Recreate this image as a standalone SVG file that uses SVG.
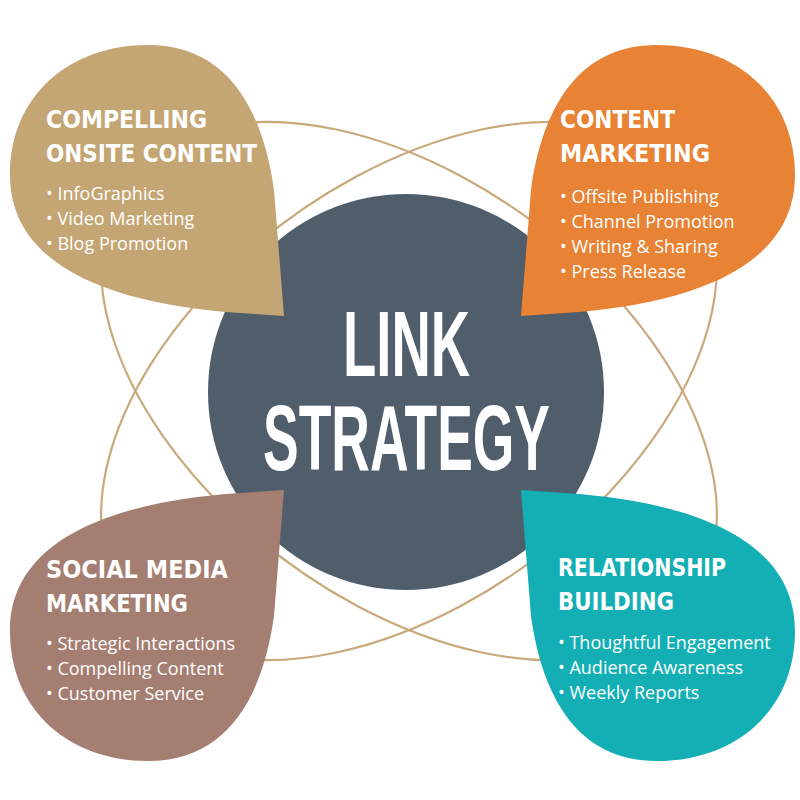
<svg xmlns="http://www.w3.org/2000/svg" width="800" height="800" viewBox="0 0 800 800">
<style>
.h{font-family:"DejaVu Sans",sans-serif;font-weight:bold;font-size:25px;fill:#fff}
.b{font-family:"Open Sans","DejaVu Sans",sans-serif;font-size:18px;fill:#fff}
.c{font-family:"Liberation Sans",sans-serif;font-weight:bold;font-size:92px;fill:#fff}
.ring{fill:none;stroke:#c9a97a;stroke-width:2.2}
</style>
<defs>
<path id="drop" d="M284,316 L240,313 C120,305 10,270 10,175 C10,95 70,45 148,45 C225,45 262,105 274,190 Z"/>
</defs>
<g id="connectors" transform="translate(409,391) scale(1.144,1)">
<ellipse class="ring" rx="325" ry="198" transform="rotate(45)" vector-effect="non-scaling-stroke"/>
<ellipse class="ring" rx="325" ry="198" transform="rotate(-45)" vector-effect="non-scaling-stroke"/>
</g>
<g id="center">
<circle cx="406" cy="392" r="198" fill="#505d6b"/>
<text class="c" x="343" y="376" textLength="127" lengthAdjust="spacingAndGlyphs">LINK</text>
<text class="c" x="263" y="470" textLength="287" lengthAdjust="spacingAndGlyphs">STRATEGY</text>
</g>
<g id="onsite">
<use href="#drop" fill="#c4a574"/>
<text class="h" x="46" y="128" textLength="161" lengthAdjust="spacingAndGlyphs">COMPELLING</text>
<text class="h" x="46" y="162" textLength="211" lengthAdjust="spacingAndGlyphs">ONSITE CONTENT</text>
<text class="b" x="46" y="200">• InfoGraphics</text>
<text class="b" x="46" y="225">• Video Marketing</text>
<text class="b" x="46" y="250">• Blog Promotion</text>
</g>
<g id="content">
<use href="#drop" fill="#e88234" transform="translate(805,0) scale(-1,1)"/>
<text class="h" x="560" y="128" textLength="115" lengthAdjust="spacingAndGlyphs">CONTENT</text>
<text class="h" x="560" y="162" textLength="150" lengthAdjust="spacingAndGlyphs">MARKETING</text>
<text class="b" x="560" y="203">• Offsite Publishing</text>
<text class="b" x="560" y="228">• Channel Promotion</text>
<text class="b" x="560" y="253">• Writing &amp; Sharing</text>
<text class="b" x="560" y="278">• Press Release</text>
</g>
<g id="social">
<use href="#drop" fill="#a47e71" transform="translate(0,806) scale(1,-1)"/>
<text class="h" x="46" y="578" textLength="182" lengthAdjust="spacingAndGlyphs">SOCIAL MEDIA</text>
<text class="h" x="46" y="612" textLength="142" lengthAdjust="spacingAndGlyphs">MARKETING</text>
<text class="b" x="46" y="650">• Strategic Interactions</text>
<text class="b" x="46" y="675">• Compelling Content</text>
<text class="b" x="46" y="700">• Customer Service</text>
</g>
<g id="relationship">
<use href="#drop" fill="#14afb5" transform="translate(805,806) scale(-1,-1)"/>
<text class="h" x="558" y="576" textLength="168" lengthAdjust="spacingAndGlyphs">RELATIONSHIP</text>
<text class="h" x="558" y="610" textLength="116" lengthAdjust="spacingAndGlyphs">BUILDING</text>
<text class="b" x="558" y="649">• Thoughtful Engagement</text>
<text class="b" x="558" y="674">• Audience Awareness</text>
<text class="b" x="558" y="699">• Weekly Reports</text>
</g>
</svg>
